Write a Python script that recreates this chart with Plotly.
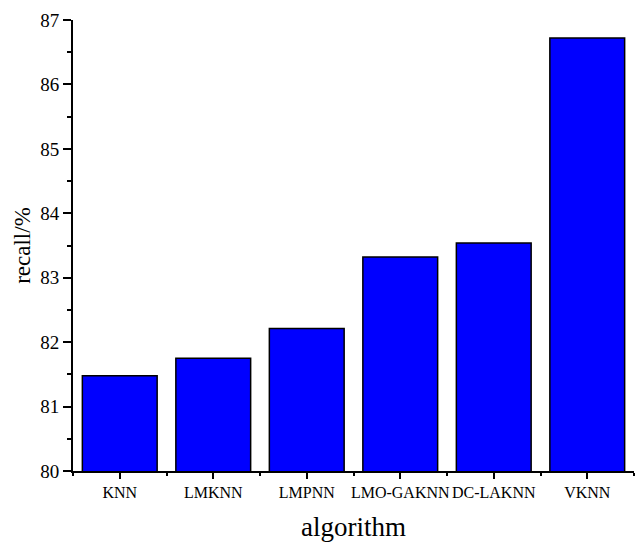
import plotly.graph_objects as go

categories = ["KNN", "LMKNN", "LMPNN", "LMO-GAKNN", "DC-LAKNN", "VKNN"]
recall = [81.48, 81.75, 82.21, 83.32, 83.54, 86.72]
y_ticks = [80, 81, 82, 83, 84, 85, 86, 87]

x_pos = list(range(len(categories)))

fig = go.Figure(
    go.Bar(
        x=x_pos,
        y=recall,
        marker=dict(color="#0000FF", line=dict(color="black", width=1.5)),
        width=0.8,
    )
)

serif = "Liberation Serif, Times New Roman, serif"

fig.update_layout(
    width=640,
    height=543,
    margin=dict(l=73, r=6, t=20, b=72),
    plot_bgcolor="white",
    paper_bgcolor="white",
    showlegend=False,
    font=dict(family=serif, color="black"),
    xaxis=dict(
        range=[-0.5, len(categories) - 0.5],
        tickmode="array",
        tickvals=x_pos,
        ticktext=categories,
        tickangle=0,
        ticks="outside",
        ticklen=6,
        tickwidth=2,
        tickcolor="black",
        showline=True,
        linecolor="black",
        linewidth=2,
        showgrid=False,
        zeroline=False,
        tickfont=dict(size=16, family=serif),
        minor=dict(
            tickmode="array",
            tickvals=[i - 0.5 for i in range(len(categories) + 1)],
            ticks="outside",
            ticklen=3,
            tickwidth=2,
            tickcolor="black",
            showgrid=False,
        ),
        title=dict(text="algorithm", font=dict(size=27, family=serif), standoff=17),
    ),
    yaxis=dict(
        range=[80, 87],
        tickmode="array",
        tickvals=y_ticks,
        ticks="outside",
        ticklen=8,
        tickwidth=2,
        tickcolor="black",
        showline=True,
        linecolor="black",
        linewidth=2,
        showgrid=False,
        zeroline=False,
        tickfont=dict(size=19, family=serif),
        minor=dict(
            tickmode="array",
            tickvals=[80.5, 81.5, 82.5, 83.5, 84.5, 85.5, 86.5],
            ticks="outside",
            ticklen=4,
            tickwidth=2,
            tickcolor="black",
            showgrid=False,
        ),
        title=dict(text="recall/%", font=dict(size=23, family=serif), standoff=3),
    ),
)

fig.write_html("out.html")
